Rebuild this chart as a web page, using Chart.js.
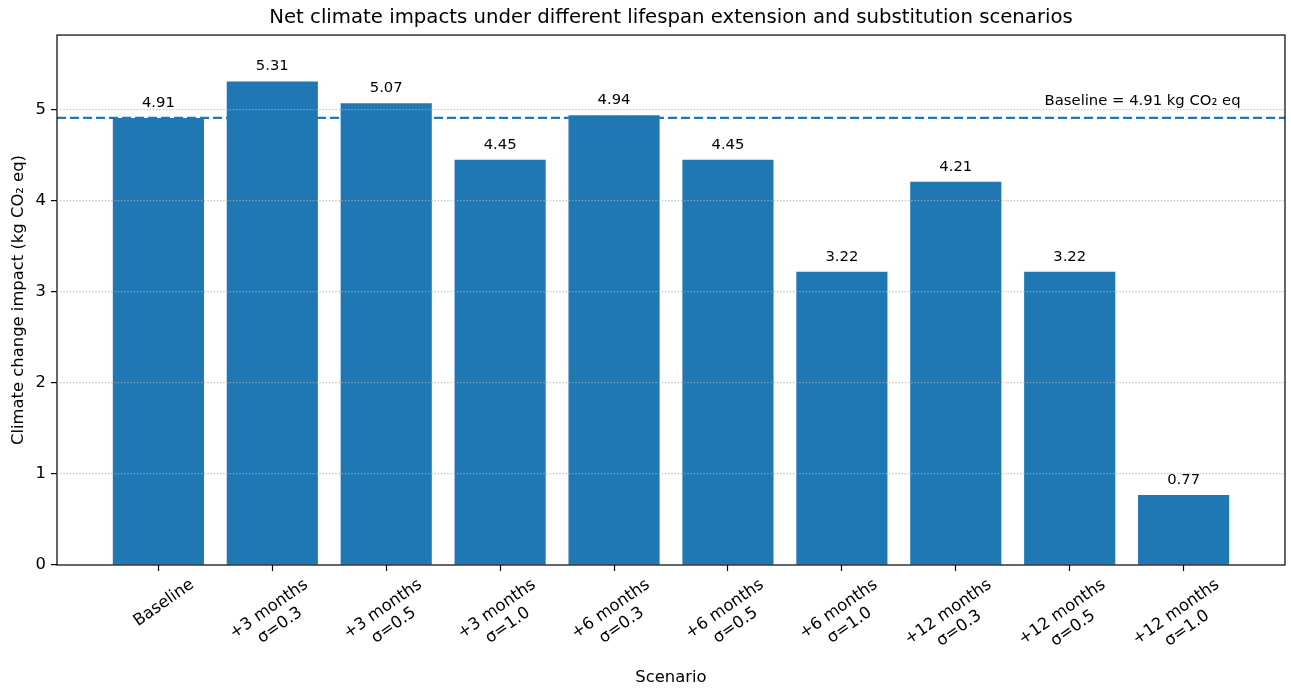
<!DOCTYPE html>
<html>
<head>
<meta charset="utf-8">
<script src="https://cdn.jsdelivr.net/npm/chart.js@4.4.1/dist/chart.umd.min.js"></script>
<style>
  html, body { margin: 0; padding: 0; background: #fff; }
  #chart { display: block; }
</style>
</head>
<body>
<canvas id="chart" width="1291" height="691"></canvas>
<script>
const scenarios = [
    'Baseline',
    '+3 months\nσ=0.3', '+3 months\nσ=0.5', '+3 months\nσ=1.0',
    '+6 months\nσ=0.3', '+6 months\nσ=0.5', '+6 months\nσ=1.0',
    '+12 months\nσ=0.3', '+12 months\nσ=0.5', '+12 months\nσ=1.0'
];
const impacts = [4.91, 5.31, 5.07, 4.45, 4.94, 4.45, 3.22, 4.21, 3.22, 0.77];
const baselineImpact = 4.91;
const yTicks = [0, 1, 2, 3, 4, 5];

const FONT = '"DejaVu Sans", sans-serif';
const BLUE = '#1f77b4';
const xMin = -0.89, xMax = 9.89, yMax = 5.82;

// matplotlib centres multi-line labels, chart.js right-aligns rotated ones,
// so pad the shorter lines with trailing spaces
const measureCtx = document.createElement('canvas').getContext('2d');
measureCtx.font = '16.4px ' + FONT;

function centeredLines(label) {
    const lines = label.split('\n');
    const widths = lines.map(l => measureCtx.measureText(l).width);
    const widest = Math.max(...widths);
    const space = measureCtx.measureText(' ').width;
    return lines.map((l, i) => l + ' '.repeat(Math.round((widest - widths[i]) / 2 / space)));
}

const annotations = {
    id: 'annotations',
    afterDatasetsDraw(chart) {
        const ctx = chart.ctx;
        const meta = chart.getDatasetMeta(1);
        ctx.save();
        ctx.font = '14.8px ' + FONT;
        ctx.fillStyle = '#000';
        ctx.textAlign = 'center';
        ctx.textBaseline = 'alphabetic';
        meta.data.forEach((bar, i) => {
            ctx.fillText(impacts[i].toFixed(2), bar.x, bar.y - 11);
        });

        const x = chart.scales.x.getPixelForValue(scenarios.length - 0.5);
        const y = chart.scales.y.getPixelForValue(baselineImpact) - 13;
        ctx.textAlign = 'right';
        ctx.fillText('Baseline = ' + baselineImpact.toFixed(2) + ' kg CO₂ eq', x, y);

        // axes frame
        const a = chart.chartArea;
        ctx.strokeStyle = '#000';
        ctx.lineWidth = 1.2;
        ctx.strokeRect(a.left, a.top, a.right - a.left, a.bottom - a.top);
        ctx.restore();
    }
};

new Chart('chart', {
    data: {
        datasets: [{
            type: 'line',
            order: 0,
            data: [{ x: xMin, y: baselineImpact }, { x: xMax, y: baselineImpact }],
            borderColor: BLUE,
            borderWidth: 2.4,
            borderDash: [9, 4],
            pointRadius: 0,
            fill: false
        }, {
            type: 'bar',
            order: 1,
            data: scenarios.map((s, i) => ({ x: i, y: impacts[i] })),
            backgroundColor: BLUE,
            borderWidth: 0,
            barPercentage: 0.8,
            categoryPercentage: 1.0
        }]
    },
    plugins: [annotations],
    options: {
        responsive: false,
        animation: false,
        devicePixelRatio: 1,
        layout: { padding: { left: 0, right: 6, top: 0, bottom: 0 } },
        plugins: {
            legend: { display: false },
            tooltip: { enabled: false },
            title: {
                display: true,
                fullSize: false,
                text: 'Net climate impacts under different lifespan extension and substitution scenarios',
                color: '#000',
                font: { family: FONT, size: 19.7, weight: 'normal' },
                padding: { top: 6, bottom: 5.4 }
            }
        },
        scales: {
            x: {
                type: 'linear',
                min: xMin,
                max: xMax,
                offset: false,
                afterBuildTicks: scale => { scale.ticks = scenarios.map((s, i) => ({ value: i })); },
                afterFit: scale => { scale.height = 126; },
                ticks: {
                    autoSkip: false,
                    minRotation: 35,
                    maxRotation: 35,
                    labelOffset: 34,
                    padding: 4,
                    color: '#000',
                    font: { family: FONT, size: 16.4 },
                    callback: value => centeredLines(scenarios[value])
                },
                grid: {
                    offset: false,
                    drawOnChartArea: false,
                    drawTicks: true,
                    tickLength: 6,
                    tickColor: '#000',
                    tickWidth: 1.2
                },
                border: { display: false },
                title: {
                    display: true,
                    text: 'Scenario',
                    color: '#000',
                    font: { family: FONT, size: 16.4 },
                    padding: { top: 0, bottom: 3 }
                }
            },
            y: {
                type: 'linear',
                min: 0,
                max: yMax,
                afterBuildTicks: scale => { scale.ticks = yTicks.map(v => ({ value: v })); },
                afterFit: scale => { scale.width = 57; },
                ticks: {
                    padding: 5,
                    color: '#000',
                    font: { family: FONT, size: 16.4 }
                },
                grid: {
                    z: 1,
                    color: ctx => ctx.tick && ctx.tick.value === 0 ? 'rgba(0,0,0,0)' : 'rgba(176,176,176,0.85)',
                    lineWidth: 1.2,
                    tickLength: 6,
                    tickColor: '#000',
                    tickWidth: 1.2,
                    tickBorderDash: []
                },
                border: { display: false, dash: [1.2, 2] },
                title: {
                    display: true,
                    text: 'Climate change impact (kg CO₂ eq)',
                    color: '#000',
                    font: { family: FONT, size: 16.4 },
                    padding: { top: 9, bottom: 0 }
                }
            }
        }
    }
});
</script>
</body>
</html>
